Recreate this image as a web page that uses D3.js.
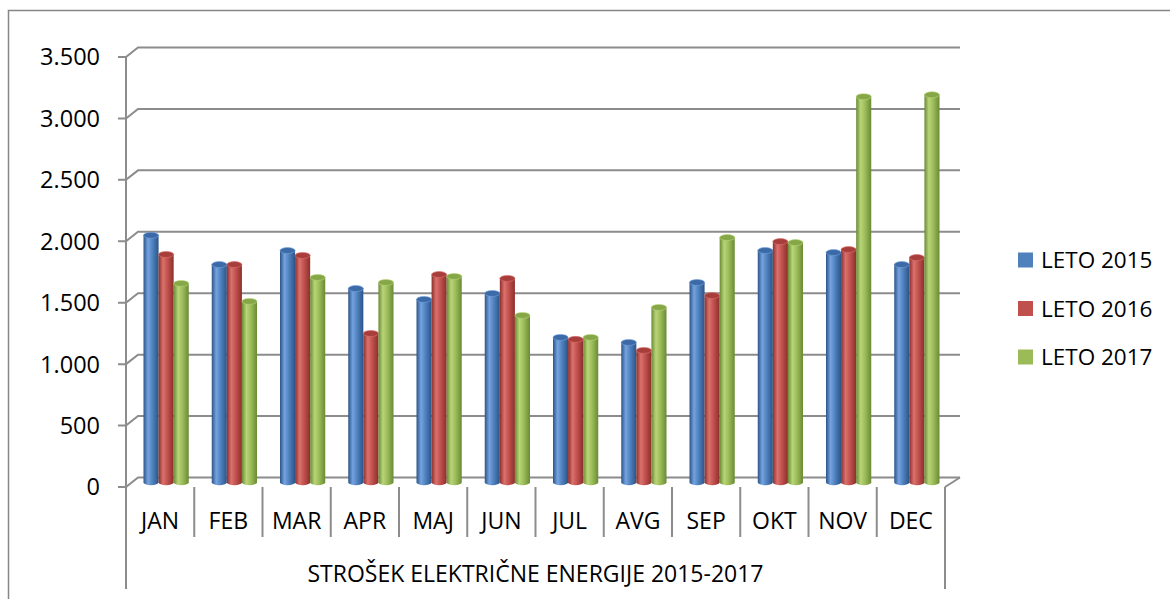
<!DOCTYPE html>
<html>
<head>
<meta charset="utf-8">
<script src="https://cdn.jsdelivr.net/npm/d3@7"></script>
<style>
  body { margin: 0; background: #fff; }
  svg { display: block; }
  text { font-family: "Open Sans", sans-serif; fill: #000; }
</style>
</head>
<body>
<svg id="chart" width="1170" height="599"></svg>
<script>
// data
var months = ["JAN", "FEB", "MAR", "APR", "MAJ", "JUN", "JUL", "AVG", "SEP", "OKT", "NOV", "DEC"];
var seriesNames = ["LETO 2015", "LETO 2016", "LETO 2017"];
var leto2015 = [2010, 1772, 1886, 1577, 1488, 1537, 1179, 1138, 1626, 1886, 1870, 1772];
var leto2016 = [1854, 1772, 1846, 1211, 1691, 1659, 1163, 1073, 1520, 1959, 1894, 1829];
var leto2017 = [1618, 1472, 1667, 1626, 1675, 1358, 1179, 1423, 1992, 1951, 3138, 3154];
var yTicks = [0, 500, 1000, 1500, 2000, 2500, 3000, 3500];
var axisTitle = "STROŠEK ELEKTRIČNE ENERGIJE 2015-2017";

var series = [leto2015, leto2016, leto2017];
var colors = [
  {base: "#4f81bd", dark: "#2b5488", light: "#74a3e0", top: "#3c6aa6"},
  {base: "#c0504d", dark: "#8b2f2c", light: "#db716d", top: "#a83e3b"},
  {base: "#9bbb59", dark: "#6a8a35", light: "#b8d577", top: "#86a748"}
];

var svg = d3.select("#chart");
var gridColor = "#8c8c8c";

// depth offset of the back wall
var dx = 12, dy = -9.5;

var x = d3.scaleBand().domain(months).range([126, 945]);
var y = d3.scaleLinear().domain([0, 3500]).range([487, 57]);

// outer border
svg.append("path")
  .attr("d", "M8.5,599V10.5H1170")
  .attr("fill", "none").attr("stroke", "#868686").attr("stroke-width", 1.5);

// gridlines on the back wall + diagonal to front axis
var grid = svg.append("g");
yTicks.forEach(function(t) {
  var yf = y(t);
  grid.append("path")
    .attr("d", "M118," + yf + "H126L" + (126 + dx) + "," + (yf + dy) + "H" + (945 + dx + 3))
    .attr("fill", "none").attr("stroke", gridColor).attr("stroke-width", 2);
});

// floor right edge
grid.append("path")
  .attr("d", "M945," + y(0) + "L" + (945 + dx + 3) + "," + (y(0) + dy))
  .attr("fill", "none").attr("stroke", gridColor).attr("stroke-width", 2);

// front vertical axis
grid.append("line")
  .attr("x1", 126).attr("x2", 126).attr("y1", y(3500)).attr("y2", 589)
  .attr("stroke", gridColor).attr("stroke-width", 2);
grid.append("line")
  .attr("x1", 945).attr("x2", 945).attr("y1", y(0)).attr("y2", 589)
  .attr("stroke", gridColor).attr("stroke-width", 2);

// category separators
months.forEach(function(m, i) {
  if (i === 0) return;
  grid.append("line")
    .attr("x1", x(m)).attr("x2", x(m)).attr("y1", y(0)).attr("y2", 537)
    .attr("stroke", gridColor).attr("stroke-width", 2);
});

// y labels
svg.append("g").selectAll("text").data(yTicks).enter().append("text")
  .attr("x", 100).attr("y", function(d) { return y(d); })
  .attr("dy", "0.36em")
  .attr("text-anchor", "end")
  .style("font-size", "23.5px")
  .text(function(d) { return d3.format(",")(d).replace(/,/g, "."); });

// x labels
svg.append("g").selectAll("text").data(months).enter().append("text")
  .attr("x", function(d) { return x(d) + x.bandwidth() / 2; })
  .attr("y", 521).attr("dy", "0.36em")
  .attr("text-anchor", "middle")
  .style("font-size", "23px")
  .text(function(d) { return d; });

svg.append("text")
  .attr("x", (126 + 945) / 2).attr("y", 574).attr("dy", "0.36em")
  .attr("text-anchor", "middle")
  .style("font-size", "23px")
  .text(axisTitle);

// cylinder gradients
var defs = svg.append("defs");
colors.forEach(function(c, i) {
  var g = defs.append("linearGradient").attr("id", "cyl" + i)
    .attr("x1", "0").attr("x2", "1").attr("y1", "0").attr("y2", "0");
  g.append("stop").attr("offset", "0%").attr("stop-color", c.dark);
  g.append("stop").attr("offset", "30%").attr("stop-color", c.light);
  g.append("stop").attr("offset", "60%").attr("stop-color", c.base);
  g.append("stop").attr("offset", "100%").attr("stop-color", c.dark);
});

// bars at mid depth
var mdx = dx / 2, mdy = dy / 2;
var inner = d3.scaleBand().domain([0, 1, 2])
  .range([11.5, x.bandwidth() - 11.5]);
var bw = inner.bandwidth();
var ry = 3;
var yBase = y(0) + mdy;

var bars = svg.append("g");
months.forEach(function(m, i) {
  series.forEach(function(s, k) {
    var x0 = x(m) + mdx + inner(k);
    var yt = y(s[i]) + mdy;
    var cyl = bars.append("g");
    cyl.append("path")
      .attr("d", "M" + x0 + "," + yt + "V" + yBase +
        "A" + bw / 2 + "," + ry + " 0 0 0 " + (x0 + bw) + "," + yBase +
        "V" + yt + "Z")
      .attr("fill", "url(#cyl" + k + ")");
    cyl.append("ellipse")
      .attr("cx", x0 + bw / 2).attr("cy", yt)
      .attr("rx", bw / 2).attr("ry", ry)
      .attr("fill", colors[k].top)
      .attr("stroke", colors[k].light).attr("stroke-width", 0.6);
  });
});

// legend
var legend = svg.append("g");
seriesNames.forEach(function(n, k) {
  var ly = 260 + k * 48.5;
  legend.append("rect")
    .attr("x", 1018).attr("y", ly - 7.5).attr("width", 15).attr("height", 15)
    .attr("fill", colors[k].base);
  legend.append("text")
    .attr("x", 1041).attr("y", ly).attr("dy", "0.36em")
    .style("font-size", "22.5px")
    .text(n);
});
</script>
</body>
</html>
